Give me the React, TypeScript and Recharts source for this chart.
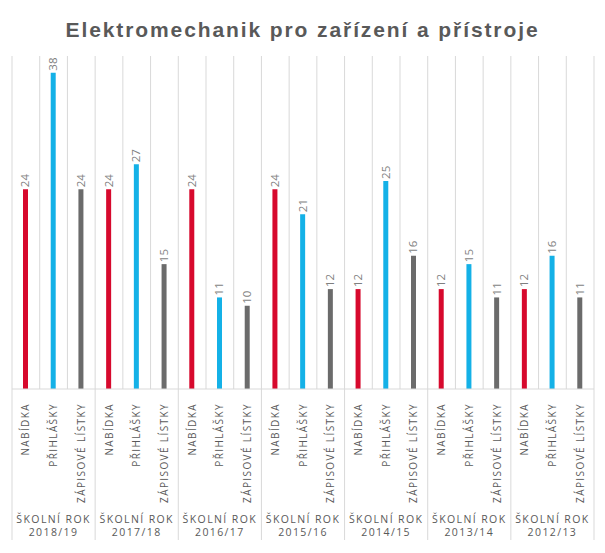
import { BarChart, Bar, XAxis, YAxis, CartesianGrid, Cell, LabelList } from "recharts";

const years = ["2018/19", "2017/18", "2016/17", "2015/16", "2014/15", "2013/14", "2012/13"];
const categories = ["NABÍDKA", "PŘIHLÁŠKY", "ZÁPISOVÉ LÍSTKY"];
const nabidka = [24, 24, 24, 24, 12, 12, 12];
const prihlasky = [38, 27, 11, 21, 25, 15, 16];
const zapisoveListky = [24, 15, 10, 12, 16, 11, 11];

const colors = ["#d7092d", "#14b1e7", "#6b6b6b"];

const data = years.flatMap((year, i) => [
  { key: `${year}-0`, label: categories[0], year, type: 0, value: nabidka[i] },
  { key: `${year}-1`, label: categories[1], year, type: 1, value: prihlasky[i] },
  { key: `${year}-2`, label: categories[2], year, type: 2, value: zapisoveListky[i] },
]);

const W = 605;
const H = 553;
const M = { top: 56, right: 11, left: 12, bottom: 0 };
const AXIS_H = 164;
const PLOT_W = W - M.left - M.right;
const BAND = PLOT_W / data.length;
const BASE = H - AXIS_H;
const FONT = "'Open Sans', 'Liberation Sans', Arial, sans-serif";

function CategoryTick(props: any) {
  const { x, payload } = props;
  const idx = payload.index;
  const item = data[idx];
  const left = x - BAND / 2;
  const right = x + BAND / 2;
  const tx = x + 3.5;
  const ty = BASE + 14;
  return (
    <g>
      <text
        x={tx}
        y={ty}
        transform={`rotate(-90, ${tx}, ${ty})`}
        textAnchor="end"
        fontSize={10}
        style={{ letterSpacing: "1.4px" }}
        fill="#595959"
        fontFamily={FONT}
      >
        {item.label}
      </text>
      {item.type === 0 && (
        <>
          <line x1={left} x2={left} y1={BASE} y2={BASE + 151} stroke="#d9d9d9" />
          <text
            x={left + BAND * 1.5}
            y={BASE + 134}
            textAnchor="middle"
            fontSize={10.5}
            style={{ letterSpacing: "1.4px" }}
            fill="#595959"
            fontFamily={FONT}
          >
            ŠKOLNÍ ROK
          </text>
          <text
            x={left + BAND * 1.5}
            y={BASE + 147}
            textAnchor="middle"
            fontSize={10.5}
            style={{ letterSpacing: "1.4px" }}
            fill="#595959"
            fontFamily={FONT}
          >
            {item.year}
          </text>
        </>
      )}
      {idx === data.length - 1 && (
        <line x1={right} x2={right} y1={BASE} y2={BASE + 151} stroke="#d9d9d9" />
      )}
    </g>
  );
}

function ValueLabel(props: any) {
  const { x, y, width, value } = props;
  const cx = x + width / 2 + 4;
  const cy = y - 2;
  return (
    <text
      x={cx}
      y={cy}
      transform={`rotate(-90, ${cx}, ${cy})`}
      textAnchor="start"
      fontSize={11.5}
      fill="#7f7f7f"
      fontFamily={FONT}
    >
      {value}
    </text>
  );
}

export default function App() {
  return (
    <div style={{ position: "absolute", left: 0, top: 0, width: W, height: H, background: "#fff" }}>
      <div
        style={{
          position: "absolute",
          top: 18,
          left: 0,
          width: W,
          textAlign: "center",
          fontFamily: "'Liberation Sans', Arial, sans-serif",
          fontWeight: "bold",
          fontSize: 21,
          letterSpacing: 1.9,
          color: "#595959",
        }}
      >
        Elektromechanik pro zařízení a přístroje
      </div>
      <BarChart width={W} height={H} data={data} margin={M} barCategoryGap={0}>
        <CartesianGrid
          horizontal={false}
          stroke="#d9d9d9"
          verticalCoordinatesGenerator={() =>
            Array.from({ length: data.length + 1 }, (_, i) => M.left + i * BAND)
          }
        />
        <XAxis
          dataKey="key"
          interval={0}
          height={AXIS_H}
          tickLine={false}
          axisLine={{ stroke: "#d9d9d9" }}
          tick={<CategoryTick />}
        />
        <YAxis hide domain={[0, 40]} />
        <Bar dataKey="value" barSize={5} isAnimationActive={false}>
          {data.map((d) => (
            <Cell key={d.key} fill={colors[d.type]} />
          ))}
          <LabelList dataKey="value" content={<ValueLabel />} />
        </Bar>
      </BarChart>
    </div>
  );
}
